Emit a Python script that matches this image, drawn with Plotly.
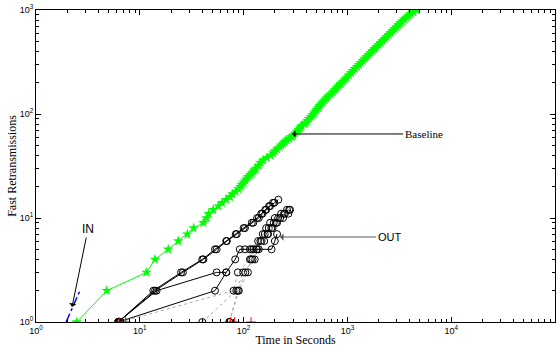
import plotly.graph_objects as go

# ---- data ----
baseline_t = [2.47, 4.8, 11.6, 14, 18.8, 23.5, 28.7, 33, 41, 44, 46, 51, 57, 62, 68, 74, 78, 84, 89,
              93, 96, 100, 104, 107, 111, 116, 120, 124, 128, 131, 139, 145, 154, 168, 182, 193, 200,
              210, 222, 231, 240, 250, 260, 275, 290, 300, 313, 326, 338, 350, 362, 385, 400, 413, 428,
              445, 460, 476, 490, 505, 522, 540, 557, 578, 603, 628, 652, 690, 722, 755, 785, 823, 860,
              900, 945, 985, 1035, 1085, 1130, 1185, 1240, 1295, 1350, 1410, 1470, 1535, 1600, 1675,
              1750, 1830, 1910, 2000, 2090, 2185, 2285, 2390, 2500, 2610, 2730, 2850, 2975, 3100, 3235,
              3370, 3540, 3700, 3880, 4080, 4330, 4650]
baseline_n = [1, 2, 3, 4, 5, 6, 7, 8, 9, 10, 11, 12, 13, 14, 15, 16, 17, 18, 19,
              20, 21, 22, 23, 24, 25, 26, 27, 28, 29, 30, 32, 34, 36, 38, 40, 42, 44,
              46, 48, 50, 52, 54, 56, 58, 60, 62, 65, 68, 71, 74, 77, 80, 83, 86, 90,
              94, 98, 102, 106, 110, 115, 120, 125, 130, 136, 142, 148, 155, 162, 170, 178, 186, 195,
              205, 215, 225, 236, 248, 260, 272, 285, 298, 312, 326, 341, 356, 372, 389,
              406, 424, 443, 463, 484, 506, 529, 553, 578, 604, 631, 659, 688, 718, 749,
              781, 814, 848, 883, 919, 956, 1000]

in_t = [1.95, 2.65]
in_n = [1, 2]

out_solid = [
    ([6.2, 14, 26, 41, 55, 69, 86, 103, 124, 140, 152, 165, 180, 198, 216], list(range(1, 16))),
    ([6.2, 13.5, 25, 40, 53, 68, 84, 100, 120, 135, 148, 162, 176, 192], list(range(1, 15))),
    ([6.2, 14.5, 55, 68], [1, 2, 3, 3]),
    ([6.2, 53, 68, 83, 92, 103, 115, 133, 186, 200, 210], [1, 2, 3, 4, 5, 5, 5, 5, 5, 6, 7]),
]
out_dotted = [
    ([6.5, 80, 88, 115, 120, 138, 153, 165, 180, 200, 230, 262], list(range(1, 13))),
    ([40, 85, 99, 128, 135, 149, 160, 175, 195, 215, 245, 280], list(range(1, 13))),
    ([73, 90, 110, 118, 125, 145, 170, 185, 210, 240, 270], list(range(1, 12))),
    ([73, 88, 104, 122, 140, 158, 172, 190, 205, 225, 250, 275], list(range(1, 13))),
]
red_t = [6.3, 7.3, 75, 82, 118]
red_n = [1, 1, 1, 1, 1]

xtick_vals = [1, 10, 100, 1000, 10000, 100000]
xtick_text = ["10<sup>0</sup>", "10<sup>1</sup>", "10<sup>2</sup>", "10<sup>3</sup>", "10<sup>4</sup>", "10<sup>5</sup>"]
ytick_vals = [1, 10, 100, 1000]
ytick_text = ["10<sup>0</sup>", "10<sup>1</sup>", "10<sup>2</sup>", "10<sup>3</sup>"]
x_minor = [m * 10 ** d for d in range(0, 5) for m in range(2, 10)]
y_minor = [m * 10 ** d for d in range(0, 3) for m in range(2, 10)]

fig = go.Figure()

for xs, ys in out_dotted:
    fig.add_trace(go.Scatter(x=xs, y=ys, mode="lines+markers",
                             line=dict(color="#a8a8a8", width=1, dash="dot"),
                             marker=dict(symbol="circle-open", size=7, color="black", line=dict(width=1)),
                             showlegend=False))
for xs, ys in out_solid:
    fig.add_trace(go.Scatter(x=xs, y=ys, mode="lines+markers",
                             line=dict(color="black", width=1),
                             marker=dict(symbol="circle-open", size=7, color="black", line=dict(width=1)),
                             showlegend=False))

fig.add_trace(go.Scatter(x=red_t, y=red_n, mode="markers",
                         marker=dict(symbol="cross-thin-open", size=7, color="red", line=dict(width=1, color="red")),
                         showlegend=False))

fig.add_trace(go.Scatter(x=baseline_t, y=baseline_n, mode="lines+markers",
                         line=dict(color="#00ff00", width=1),
                         marker=dict(symbol="star", size=8, color="#00ff00"),
                         showlegend=False))

fig.add_trace(go.Scatter(x=in_t, y=in_n, mode="lines",
                         line=dict(color="blue", width=1.5, dash="dashdot"),
                         showlegend=False))

serif = "Liberation Serif, Times New Roman, serif"
sans = "Liberation Sans, Arial, sans-serif"

fig.add_annotation(x=2.466, y=1.808, xref="x", yref="y", text="Baseline", showarrow=True,
                   ax=111, ay=0, axref="pixel", ayref="pixel", xanchor="left",
                   arrowhead=1, arrowsize=1.2, arrowwidth=1, arrowcolor="black",
                   font=dict(family=serif, size=11, color="black"))
fig.add_annotation(x=2.35, y=0.817, xref="x", yref="y", text="OUT", showarrow=True,
                   ax=96, ay=0, axref="pixel", ayref="pixel", xanchor="left",
                   arrowhead=1, arrowsize=1.2, arrowwidth=1, arrowcolor="#555555",
                   font=dict(family=sans, size=11, color="black"))
fig.add_annotation(x=0.347, y=0.144, xref="x", yref="y", text="IN", showarrow=True,
                   ax=16, ay=-78, axref="pixel", ayref="pixel",
                   arrowhead=1, arrowsize=1.2, arrowwidth=1, arrowcolor="black",
                   font=dict(family=sans, size=12, color="black"))

def axis_common(minor_vals):
    return dict(type="log", showgrid=False, zeroline=False, showline=True, linecolor="black",
                linewidth=1, mirror="allticks", ticks="inside", ticklen=5, tickcolor="black",
                tickfont=dict(family=sans, size=9, color="black"), automargin=False,
                minor=dict(tickmode="array", tickvals=minor_vals, ticks="inside", ticklen=3,
                           tickcolor="black", showgrid=False))

fig.update_xaxes(range=[0, 5], tickmode="array", tickvals=xtick_vals, ticktext=xtick_text,
                 title=dict(text="Time in Seconds", font=dict(family=serif, size=12, color="black"), standoff=0),
                 **axis_common(x_minor))
fig.update_yaxes(range=[0, 3], tickmode="array", tickvals=ytick_vals, ticktext=ytick_text,
                 title=dict(text="Fast Retransmissions", font=dict(family=serif, size=12, color="black"), standoff=0),
                 **axis_common(y_minor))

fig.update_layout(width=560, height=352, margin=dict(l=36, r=5, t=10, b=30),
                  plot_bgcolor="white", paper_bgcolor="white", showlegend=False)

fig.write_html("out.html", config={"displayModeBar": False},
               post_script="document.body.style.margin='0';document.body.style.overflow='hidden';")
